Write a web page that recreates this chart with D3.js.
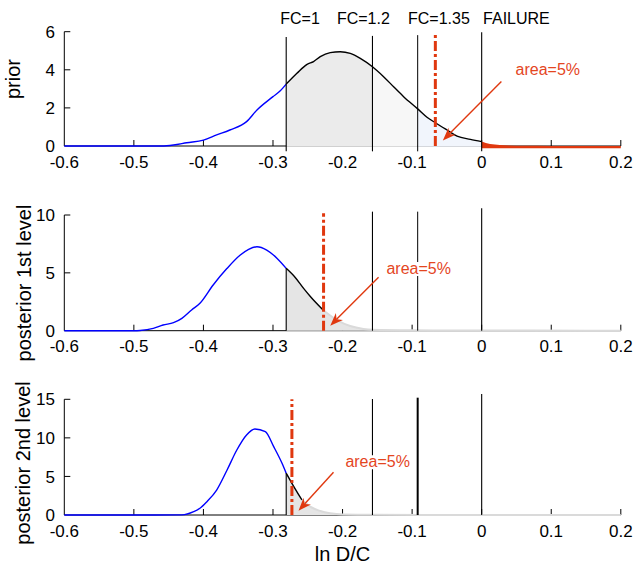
<!DOCTYPE html>
<html>
<head>
<meta charset="utf-8">
<script src="https://cdn.jsdelivr.net/npm/d3@7"></script>
<style>
body { margin: 0; background: #fff; }
svg { font-family: "Liberation Sans", Arial, sans-serif; }
</style>
</head>
<body>
<div id="chart"></div>
<script>
//Data
var xTicks = [-0.6, -0.5, -0.4, -0.3, -0.2, -0.1, 0, 0.1, 0.2];
var xTickLabels = ["-0.6", "-0.5", "-0.4", "-0.3", "-0.2", "-0.1", "0", "0.1", "0.2"];
var thresholds = [-0.281, -0.157, -0.092, 0];
var thresholdLabels = ["FC=1", "FC=1.2", "FC=1.35", "FAILURE"];
var thresholdLabelX = [-0.2895, -0.2081, -0.1059, 0.002];

var priorX = [-0.6, -0.5, -0.46, -0.443, -0.424, -0.4, -0.381, -0.362, -0.338, -0.323, -0.3, -0.2895, -0.281,
    -0.2656, -0.251, -0.2417, -0.232, -0.2177, -0.2033, -0.1889, -0.1745, -0.157, -0.141, -0.1266, -0.1122,
    -0.092, -0.0786, -0.0665, -0.0498, -0.0354, -0.0162, 0, 0.012, 0.026, 0.04, 0.06, 0.1, 0.2];
var priorY = [0, 0, 0, 0.05, 0.17, 0.31, 0.58, 0.84, 1.28, 1.89, 2.59, 2.9, 3.25,
    3.82, 4.29, 4.43, 4.69, 4.9, 4.95, 4.86, 4.6, 4.16, 3.64, 3.11, 2.59,
    1.95, 1.51, 1.22, 0.84, 0.52, 0.35, 0.23, 0.1, 0.05, 0.02, 0.01, 0.005, 0];

var post1X = [-0.6, -0.5, -0.491, -0.472, -0.458, -0.443, -0.431, -0.417, -0.405, -0.386, -0.366, -0.347,
    -0.335, -0.323, -0.309, -0.294, -0.281, -0.268, -0.256, -0.246, -0.2273, -0.208, -0.189, -0.17, -0.157,
    -0.1, 0, 0.15, 0.2];
var post1Y = [0, 0, 0.02, 0.2, 0.49, 0.69, 1.07, 1.79, 2.37, 3.95, 5.39, 6.54,
    7.03, 7.26, 6.97, 6.25, 5.39, 4.6, 3.66, 2.94, 1.75, 0.92, 0.4, 0.15, 0.08,
    0.03, 0.01, 0.005, 0];

var post2X = [-0.6, -0.5, -0.431, -0.414, -0.405, -0.395, -0.381, -0.366, -0.352, -0.338, -0.326, -0.311,
    -0.299, -0.287, -0.281, -0.2728, -0.2584, -0.2465, -0.232, -0.218, -0.199, -0.157, 0, 0.2];
var post2Y = [0, 0, 0.02, 0.43, 0.87, 1.73, 3.24, 5.84, 8.43, 10.38, 11.15, 10.8,
    8.86, 6.7, 5.41, 4.11, 1.95, 1.08, 0.52, 0.22, 0.06, 0.02, 0.01, 0];

var redLineX = [-0.0666, -0.2273, -0.2728];
var areaText = "area=5%";

//Layout
var width = 635, height = 564;
var red = "#e0380f";
var panels = [
    { label: "prior", xs: priorX, ys: priorY, ymax: 6, yTicks: [0, 2, 4, 6], top: 31.7, bottom: 146,
      labelX: 20, labelY: 79, blackEnd: 0, lineTop: [5.72, 5.78, 5.82, 5.97], lineBottom: -0.28, redTop: 5.95,
      textPos: [0.0487, 3.73], arrow: [0.0283, 3.39, -0.0558, 0.29], fc135Width: 1 },
    { label: "posterior 1st level", xs: post1X, ys: post1Y, ymax: 10, yTicks: [0, 5, 10], top: 215, bottom: 330.7,
      labelX: 31, labelY: 283, blackEnd: -0.2273, lineTop: [null, 10.29, 10.29, 10.58], lineBottom: 0, redTop: 10.15,
      textPos: [-0.1369, 4.9], arrow: [-0.1482, 4.62, -0.2177, 0.43], fc135Width: 1 },
    { label: "posterior 2nd level", xs: post2X, ys: post2Y, ymax: 15, yTicks: [0, 5, 10, 15], top: 399.3, bottom: 515,
      labelX: 30, labelY: 463, blackEnd: -0.2584, lineTop: [null, 15.04, 15.21, 15.69], lineBottom: 0, redTop: 15.0,
      textPos: [-0.1959, 6.19], arrow: [-0.213, 5.54, -0.2633, 0.56], fc135Width: 2 }
];

var x = d3.scaleLinear().domain([-0.6, 0.2]).range([64.3, 620.8]);

var svg = d3.select("#chart")
    .append("svg")
    .attr("width", width)
    .attr("height", height);

function pts(p, a, b) {
    var out = [];
    for (var i = 0; i < p.xs.length; i++) {
        if (p.xs[i] >= a - 1e-9 && p.xs[i] <= b + 1e-9) out.push([p.xs[i], p.ys[i]]);
    }
    return out;
}
function valueAt(p, v) {
    var i = p.xs.indexOf(v);
    return p.ys[i];
}

function drawArrow(g, x1, y1, x2, y2) {
    var ang = Math.atan2(y2 - y1, x2 - x1);
    var c = Math.cos(ang), s = Math.sin(ang);
    var L = 13, w = 5, n = 9;
    g.append("line")
        .attr("x1", x1).attr("y1", y1)
        .attr("x2", x2 - n * c).attr("y2", y2 - n * s)
        .attr("stroke", red)
        .attr("stroke-width", 1.4);
    var bx = x2 - L * c, by = y2 - L * s;
    var head = [[x2, y2], [bx - w * s, by + w * c], [x2 - n * c, y2 - n * s], [bx + w * s, by - w * c]];
    g.append("polygon")
        .attr("points", head.map(function (d) { return d.join(","); }).join(" "))
        .attr("fill", red);
}

panels.forEach(function (p, pi) {
    var y = d3.scaleLinear().domain([0, p.ymax]).range([p.bottom, p.top]);
    var g = svg.append("g");
    var line = d3.line()
        .x(function (d) { return x(d[0]); })
        .y(function (d) { return y(d[1]); })
        .curve(d3.curveMonotoneX);
    var area = d3.area()
        .x(function (d) { return x(d[0]); })
        .y0(y(0) + 0.8)
        .y1(function (d) { return y(d[1]); })
        .curve(d3.curveMonotoneX);

    // axes
    g.append("line")
        .attr("x1", x(-0.6)).attr("x2", x(0.2))
        .attr("y1", y(0)).attr("y2", y(0))
        .attr("stroke", "black");
    g.append("line")
        .attr("x1", x(-0.6)).attr("x2", x(-0.6))
        .attr("y1", y(0)).attr("y2", y(p.ymax))
        .attr("stroke", "black");
    g.selectAll("xtick")
        .data(xTicks.slice(1))
        .enter()
        .append("line")
        .attr("x1", function (d) { return x(d); })
        .attr("x2", function (d) { return x(d); })
        .attr("y1", y(0)).attr("y2", y(0) - 6)
        .attr("stroke", "black");
    g.selectAll("ytick")
        .data(p.yTicks.slice(1))
        .enter()
        .append("line")
        .attr("x1", x(-0.6)).attr("x2", x(-0.6) + 6)
        .attr("y1", function (d) { return y(d); })
        .attr("y2", function (d) { return y(d); })
        .attr("stroke", "black");
    g.selectAll("xlab")
        .data(xTicks)
        .enter()
        .append("text")
        .attr("x", function (d) { return x(d); })
        .attr("y", y(0) + 21.5)
        .attr("text-anchor", "middle")
        .style("font-size", "17px")
        .text(function (d, i) { return xTickLabels[i]; });
    g.selectAll("ylab")
        .data(p.yTicks)
        .enter()
        .append("text")
        .attr("x", 55)
        .attr("y", function (d) { return y(d); })
        .attr("dy", "0.36em")
        .attr("text-anchor", "end")
        .style("font-size", "17px")
        .text(function (d) { return d; });
    g.append("text")
        .attr("transform", "translate(" + p.labelX + "," + p.labelY + ") rotate(-90)")
        .attr("text-anchor", "middle")
        .style("font-size", "20px")
        .text(p.label);

    // fills
    if (pi == 0) {
        var fills = ["#ebebeb", "#f7f7f7", "#f1f5fc"];
        for (var k = 0; k < 3; k++) {
            g.append("path")
                .datum(pts(p, thresholds[k], thresholds[k + 1]))
                .attr("fill", fills[k])
                .attr("d", area);
        }
        g.append("path")
            .datum(pts(p, 0, 0.2))
            .attr("fill", red)
            .attr("d", d3.area()
                .x(function (d) { return x(d[0]); })
                .y0(y(0))
                .y1(function (d) { return y(d[1]); })
                .curve(d3.curveMonotoneX));
        g.append("line")
            .attr("x1", x(0)).attr("x2", x(0.2))
            .attr("y1", y(0) + 1.2).attr("y2", y(0) + 1.2)
            .attr("stroke", red)
            .attr("stroke-width", 2.2);
    } else {
        g.append("path")
            .datum(pts(p, thresholds[0], 0.2))
            .attr("fill", "#e5e5e5")
            .attr("d", d3.area()
                .x(function (d) { return x(d[0]); })
                .y0(y(0))
                .y1(function (d) { return y(d[1]); })
                .curve(d3.curveMonotoneX));
        g.append("path")
            .datum(pts(p, p.blackEnd, 0.2))
            .attr("fill", "none")
            .attr("stroke", "#dadada")
            .attr("stroke-width", 2)
            .attr("d", line);
    }

    // curves
    g.append("path")
        .datum(pts(p, -0.6, thresholds[0]))
        .attr("fill", "none")
        .attr("stroke", "#0000ff")
        .attr("stroke-width", 1.4)
        .attr("d", line);
    g.append("path")
        .datum(pts(p, thresholds[0], p.blackEnd))
        .attr("fill", "none")
        .attr("stroke", "black")
        .attr("stroke-width", 1.4)
        .attr("d", line);

    // threshold lines
    thresholds.forEach(function (t, k) {
        var top = p.lineTop[k] == null ? valueAt(p, t) : p.lineTop[k];
        var bot = p.lineTop[k] == null ? 0 : p.lineBottom;
        g.append("line")
            .attr("x1", x(t)).attr("x2", x(t))
            .attr("y1", y(bot)).attr("y2", y(top))
            .attr("stroke", "black")
            .attr("stroke-width", k == 2 ? p.fc135Width : 1.1);
    });

    // red 5% line
    g.append("line")
        .attr("x1", x(redLineX[pi])).attr("x2", x(redLineX[pi]))
        .attr("y1", y(0)).attr("y2", y(p.redTop))
        .attr("stroke", red)
        .attr("stroke-width", 3)
        .attr("stroke-dasharray", "10,3,3,3");

    // area label with white box
    var tx = x(p.textPos[0]), ty = y(p.textPos[1]);
    var txt = g.append("text")
        .attr("x", tx).attr("y", ty)
        .style("font-size", "16px")
        .attr("fill", "#e4461f")
        .text(areaText);
    var bb = txt.node().getBBox();
    g.insert("rect", function () { return txt.node(); })
        .attr("x", bb.x).attr("y", ty - 12)
        .attr("width", bb.width).attr("height", 14)
        .attr("fill", "white");

    drawArrow(g, x(p.arrow[0]), y(p.arrow[1]), x(p.arrow[2]), y(p.arrow[3]));

    if (pi == 0) {
        g.selectAll("fclab")
            .data(thresholdLabels)
            .enter()
            .append("text")
            .attr("x", function (d, i) { return x(thresholdLabelX[i]); })
            .attr("y", 24)
            .style("font-size", "16px")
            .text(function (d) { return d; });
    }
});

svg.append("text")
    .attr("x", x(-0.2))
    .attr("y", 561)
    .attr("text-anchor", "middle")
    .style("font-size", "20px")
    .text("ln D/C");
</script>
</body>
</html>
